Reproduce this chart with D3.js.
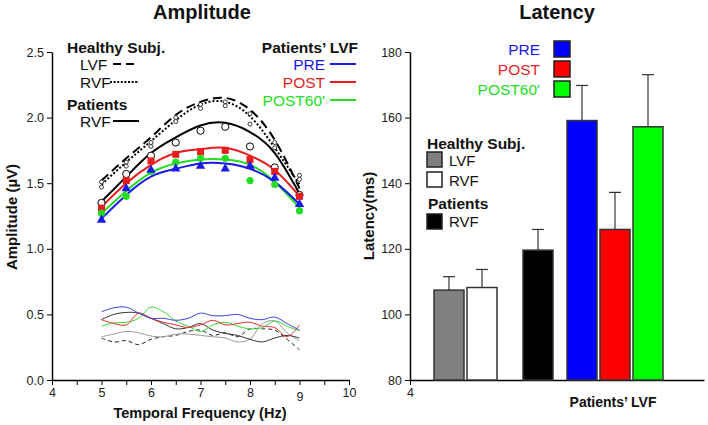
<!DOCTYPE html>
<html><head><meta charset="utf-8">
<script src="https://cdn.jsdelivr.net/npm/d3@7"></script>
<style>
body{margin:0;background:#fff}
svg{display:block}
text{font-family:"Liberation Sans",Arial,Helvetica,sans-serif;fill:#111}
</style>
</head><body>
<svg id="c" width="708" height="425"></svg>
<script>
// ---------- DATA ----------
const freqs = [5, 5.5, 6, 6.5, 7, 7.5, 8, 8.5, 9];
// measured points
const prePts      = [1.22, 1.46, 1.60, 1.61, 1.63, 1.61, 1.63, 1.54, 1.34];
const postPts     = [1.31, 1.52, 1.67, 1.72, 1.74, 1.75, 1.68, 1.59, 1.40];
const post60Pts   = [1.27, 1.40, 1.59, 1.66, 1.69, 1.69, 1.52, 1.49, 1.29];
const patRvfPts   = [1.35, 1.57, 1.71, 1.81, 1.90, 1.93, 1.78, 1.62, 1.41];
const healthyLvfPts = [1.51, 1.66, 1.81, 2.00, 2.10, 2.12, 2.03, 1.81, 1.56];
const healthyRvfPts = [1.47, 1.63, 1.78, 1.97, 2.07, 2.09, 1.95, 1.77, 1.53];
// fitted curves
const preFit      = [1.23, 1.41, 1.55, 1.61, 1.65, 1.65, 1.61, 1.51, 1.34];
const postFit     = [1.32, 1.50, 1.64, 1.73, 1.76, 1.77, 1.71, 1.60, 1.40];
const post60Fit   = [1.27, 1.44, 1.58, 1.65, 1.68, 1.68, 1.64, 1.51, 1.31];
const patRvfFit   = [1.36, 1.55, 1.73, 1.85, 1.94, 1.96, 1.89, 1.73, 1.42];
const healthyLvfFit = [1.52, 1.69, 1.85, 2.02, 2.12, 2.15, 2.06, 1.83, 1.46];
const healthyRvfFit = [1.49, 1.66, 1.82, 1.98, 2.10, 2.12, 2.01, 1.77, 1.49];
// noise traces
const noiseFreqs = [5, 5.25, 5.5, 5.75, 6, 6.25, 6.5, 6.75, 7, 7.25, 7.5, 7.75, 8, 8.25, 8.5, 8.75, 9];
const preNoise    = [0.52, 0.55, 0.555, 0.51, 0.47, 0.47, 0.455, 0.47, 0.51, 0.49, 0.49, 0.50, 0.47, 0.46, 0.48, 0.43, 0.38];
const postNoise   = [0.46, 0.43, 0.42, 0.51, 0.47, 0.44, 0.42, 0.40, 0.42, 0.455, 0.42, 0.43, 0.44, 0.41, 0.40, 0.33, 0.42];
const post60Noise = [0.41, 0.435, 0.44, 0.47, 0.555, 0.52, 0.45, 0.41, 0.37, 0.42, 0.44, 0.41, 0.39, 0.40, 0.45, 0.41, 0.375];
const patRvfNoise = [0.46, 0.50, 0.515, 0.51, 0.47, 0.43, 0.39, 0.40, 0.43, 0.38, 0.355, 0.34, 0.31, 0.29, 0.32, 0.34, 0.32];
const healthyRvfNoise = [0.33, 0.35, 0.37, 0.36, 0.335, 0.33, 0.35, 0.35, 0.34, 0.33, 0.32, 0.29, 0.31, 0.43, 0.45, 0.36, 0.30];
const healthyLvfNoise = [0.32, 0.29, 0.30, 0.27, 0.31, 0.33, 0.34, 0.37, 0.38, 0.34, 0.36, 0.33, 0.39, 0.39, 0.38, 0.31, 0.23];
// latency bars
const barCategories = ["Healthy LVF", "Healthy RVF", "Patients RVF", "PRE", "POST", "POST60'"];
const barGroups     = [0, 0, 1, 2, 2, 2];
const barValues     = [107.4, 108.2, 119.6, 159.1, 125.9, 157.2];
const barErrors     = [4.1, 5.5, 6.3, 10.7, 11.3, 15.9];
// ticks
const ampTicks = [0, 0.5, 1.0, 1.5, 2.0, 2.5];
const freqTicks = [4, 4.5, 5, 5.5, 6, 6.5, 7, 7.5, 8, 8.5, 9, 9.5, 10];
const latTicks = [80, 100, 120, 140, 160, 180];
const latXTicks = [4];

// ---------- STYLE ----------
const C = {blue:"#1a1ae6", red:"#e61e1e", green:"#22dd22", black:"#000", grey:"#808080"};
const svg = d3.select("#c");

// ---------- LEFT: AMPLITUDE ----------
const xA = d3.scaleLinear().domain([4, 10]).range([52, 349]);
const yA = d3.scaleLinear().domain([0, 2.5]).range([380, 52]);

svg.append("g").attr("transform", `translate(${xA(4)},0)`)
  .call(d3.axisLeft(yA).tickValues(ampTicks).tickFormat(d3.format(".1f")).tickSize(5).tickSizeOuter(0));
const gxA = svg.append("g").attr("transform", `translate(0,${yA(0)})`)
  .call(d3.axisBottom(xA).tickValues(freqTicks).tickFormat(d => Number.isInteger(d) ? d : "").tickSize(5).tickSizeOuter(0));
gxA.selectAll(".tick text").filter(d => d === 9).attr("dy", "1.05em");

// noise traces
const noiseLine = d3.line().x((d, i) => xA(noiseFreqs[i])).y(d => yA(d)).curve(d3.curveCatmullRom);
const noiseDefs = [
  [healthyLvfNoise, "#222", "4,3", 1],
  [healthyRvfNoise, "#9a9a9a", null, 1],
  [patRvfNoise, "#333", null, 1],
  [post60Noise, "#33dd33", null, 1],
  [postNoise, "#e83030", null, 1],
  [preNoise, "#4040e0", null, 1]
];
noiseDefs.forEach(([arr, col, dash, w]) => {
  svg.append("path").attr("d", noiseLine(arr)).attr("fill", "none")
    .attr("stroke", col).attr("stroke-width", w).attr("stroke-dasharray", dash);
});

// fits
const fitLine = d3.line().x((d, i) => xA(freqs[i])).y(d => yA(d)).curve(d3.curveNatural);
const fitDefs = [
  [healthyLvfFit, "#000", "9,5", 2],
  [healthyRvfFit, "#000", "2,2", 2],
  [patRvfFit, "#000", null, 2],
  [post60Fit, C.green, null, 2],
  [postFit, C.red, null, 2],
  [preFit, C.blue, null, 2]
];
fitDefs.forEach(([arr, col, dash, w]) => {
  svg.append("path").attr("d", fitLine(arr)).attr("fill", "none")
    .attr("stroke", col).attr("stroke-width", w).attr("stroke-dasharray", dash);
});

// points
[healthyLvfPts, healthyRvfPts].forEach(arr => {
  svg.append("g").selectAll("circle").data(arr).join("circle")
    .attr("cx", (d, i) => xA(freqs[i])).attr("cy", d => yA(d)).attr("r", 2)
    .attr("fill", "#fff").attr("stroke", "#222").attr("stroke-width", 0.9);
});
svg.append("g").selectAll("circle").data(patRvfPts).join("circle")
  .attr("cx", (d, i) => xA(freqs[i])).attr("cy", d => yA(d)).attr("r", 3.6)
  .attr("fill", "#fff").attr("stroke", "#000").attr("stroke-width", 1);
svg.append("g").selectAll("rect").data(postPts).join("rect")
  .attr("x", (d, i) => xA(freqs[i]) - 3.5).attr("y", d => yA(d) - 3.5)
  .attr("width", 7).attr("height", 7).attr("fill", C.red);
svg.append("g").selectAll("circle").data(post60Pts).join("circle")
  .attr("cx", (d, i) => xA(freqs[i])).attr("cy", d => yA(d)).attr("r", 3.6)
  .attr("fill", C.green);
const tri = d3.symbol().type(d3.symbolTriangle).size(38);
svg.append("g").selectAll("path").data(prePts).join("path")
  .attr("transform", (d, i) => `translate(${xA(freqs[i])},${yA(d)})`)
  .attr("d", tri).attr("fill", C.blue);

// left legend
function txt(x, y, s, opts = {}) {
  return svg.append("text").attr("x", x).attr("y", y).text(s)
    .attr("font-size", opts.size || 15.5).attr("font-weight", opts.bold ? "bold" : "normal")
    .attr("text-anchor", opts.anchor || "start").style("fill", opts.color || "#111");
}
txt(67, 53, "Healthy Subj.", {bold: true});
txt(80, 70, "LVF");
txt(80, 88, "RVF");
txt(67, 110, "Patients", {bold: true});
txt(80, 127, "RVF");
svg.append("line").attr("x1", 113).attr("x2", 139).attr("y1", 64).attr("y2", 64)
  .attr("stroke", "#000").attr("stroke-width", 2).attr("stroke-dasharray", "8,5");
svg.append("line").attr("x1", 110).attr("x2", 139).attr("y1", 82).attr("y2", 82)
  .attr("stroke", "#000").attr("stroke-width", 2).attr("stroke-dasharray", "2,1.6");
svg.append("line").attr("x1", 113).attr("x2", 139).attr("y1", 121).attr("y2", 121)
  .attr("stroke", "#000").attr("stroke-width", 2);

txt(358, 53, "Patients\u2019 LVF", {bold: true, anchor: "end"});
[["PRE", C.blue, 70], ["POST", C.red, 88], ["POST60'", C.green, 106]].forEach(([s, col, y]) => {
  txt(325, y, s, {anchor: "end", color: col});
  svg.append("line").attr("x1", 330).attr("x2", 356).attr("y1", y - 6).attr("y2", y - 6)
    .attr("stroke", col).attr("stroke-width", 2);
});

// titles
txt(202, 19, "Amplitude", {bold: true, size: 20, anchor: "middle"});
txt(200, 418, "Temporal Frequency (Hz)", {bold: true, size: 14.5, anchor: "middle"});
svg.append("text").attr("transform", "translate(17,217) rotate(-90)").attr("text-anchor", "middle")
  .attr("font-size", 15).attr("font-weight", "bold").text("Amplitude (\u00B5V)");

// ---------- RIGHT: LATENCY ----------
const yL = d3.scaleLinear().domain([80, 180]).range([380, 52]);
const xL = d3.scaleLinear().domain([4, 10]).range([410, 704]);
svg.append("g").attr("transform", `translate(${xL(4)},0)`)
  .call(d3.axisLeft(yL).tickValues(latTicks).tickFormat(d3.format("d")).tickSize(5).tickSizeOuter(0));
svg.append("g").attr("transform", `translate(0,${yL(80)})`)
  .call(d3.axisBottom(xL).tickValues(latXTicks).tickFormat(d3.format("d")).tickSize(5).tickSizeOuter(0));

const xB = d3.scaleBand().domain(barCategories).range([434, 629]).paddingInner(0.0909);
const groupShift = [0, 23, 34];
const barFill = [C.grey, "#fff", "#000", "#0000ff", "#ff0000", "#00ff00"];
const bx = (d, i) => xB(barCategories[i]) + groupShift[barGroups[i]];

// error bars (upper only)
const eg = svg.append("g").attr("stroke", "#333").attr("stroke-width", 1.2);
barValues.forEach((v, i) => {
  const cx = bx(v, i) + xB.bandwidth() / 2;
  eg.append("line").attr("x1", cx).attr("x2", cx).attr("y1", yL(v)).attr("y2", yL(v + barErrors[i]));
  eg.append("line").attr("x1", cx - 6).attr("x2", cx + 6).attr("y1", yL(v + barErrors[i])).attr("y2", yL(v + barErrors[i]));
});
svg.append("g").selectAll("rect").data(barValues).join("rect")
  .attr("x", bx).attr("y", d => yL(d)).attr("width", xB.bandwidth())
  .attr("height", d => yL(80) - yL(d))
  .attr("fill", (d, i) => barFill[i]).attr("stroke", "#333").attr("stroke-width", 1.5);

// right legend
[["PRE", C.blue, "#0000ff", 49], ["POST", C.red, "#ff0000", 69], ["POST60'", C.green, "#00ff00", 89]].forEach(([s, col, f, y]) => {
  txt(540, y + 5.5, s, {anchor: "end", color: col});
  svg.append("rect").attr("x", 554).attr("y", y - 8).attr("width", 16).attr("height", 16)
    .attr("fill", f).attr("stroke", "#222").attr("stroke-width", 1.5);
});
txt(427, 149, "Healthy Subj.", {bold: true});
[[C.grey, "LVF", 160], ["#fff", "RVF", 180]].forEach(([f, s, y]) => {
  svg.append("rect").attr("x", 427).attr("y", y - 8).attr("width", 15).attr("height", 15)
    .attr("fill", f).attr("stroke", "#222").attr("stroke-width", 1.5);
  txt(449, y + 5.5, s, {size: 15});
});
txt(428, 209, "Patients", {bold: true});
svg.append("rect").attr("x", 427).attr("y", 214).attr("width", 15).attr("height", 15)
  .attr("fill", "#000").attr("stroke", "#222").attr("stroke-width", 1.5);
txt(449, 227, "RVF", {size: 15});

txt(557, 19, "Latency", {bold: true, size: 20, anchor: "middle"});
txt(613, 407, "Patients\u2019 LVF", {bold: true, size: 14, anchor: "middle"});
svg.append("text").attr("transform", "translate(374,216) rotate(-90)").attr("text-anchor", "middle")
  .attr("font-size", 15).attr("font-weight", "bold").text("Latency(ms)");

// axis styling
svg.selectAll(".tick text").attr("font-size", 12.5).attr("font-family", "Liberation Sans, Arial, sans-serif").style("fill", "#222");
svg.selectAll(".domain").attr("stroke", "#000").attr("stroke-width", 1.5);
svg.selectAll(".tick line").attr("stroke", "#000").attr("stroke-width", 1);
</script>
</body></html>
